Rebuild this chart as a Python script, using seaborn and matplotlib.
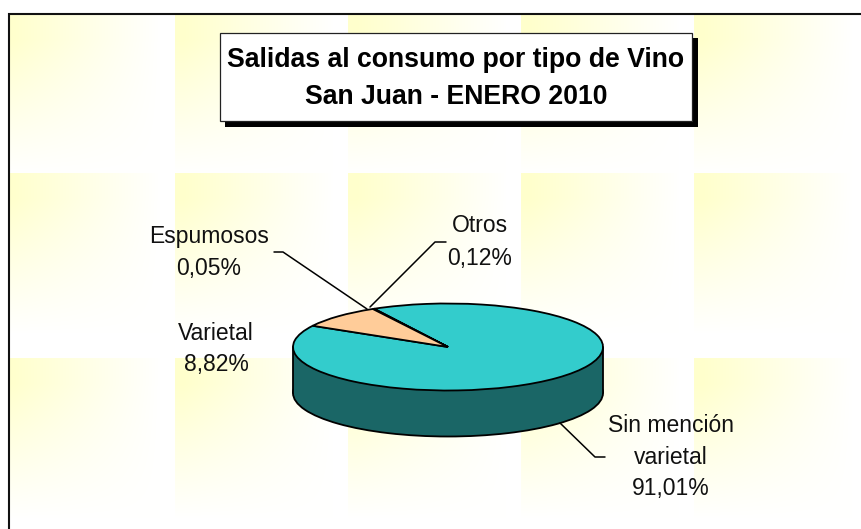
#!/usr/bin/env python3
"""Salidas al consumo por tipo de vino - San Juan, enero 2010 (pie 3D look)."""

import matplotlib
matplotlib.use("Agg")
import matplotlib.pyplot as plt
from matplotlib.patches import Rectangle
import numpy as np
import seaborn as sns

# ---- data ----
CATEGORIES = ["Sin mención\nvarietal", "Otros", "Espumosos", "Varietal"]
VALUES = [91.01, 0.12, 0.05, 8.82]
TITLE_LINES = ["Salidas al consumo por tipo de Vino", "San Juan - ENERO 2010"]

# ---- styles ----
TOP_COLOURS = ["#33CCCC", "#33CCCC", "#FFCC99", "#FFCC99"]
SIDE_COLOUR = "#1A6666"
W, H = 862, 529
LABEL_POS = [(671, 457), (480, 242), (209, 252), (216, 349)]

sns.set_theme(style="white")
plt.rcParams["font.family"] = ["Liberation Sans", "DejaVu Sans"]

fig = plt.figure(figsize=(W / 100, H / 100), dpi=100)


def pixel_axes(left, top, width, height, zorder):
    ax = fig.add_axes([left / W, 1 - (top + height) / H, width / W, height / H])
    ax.set_zorder(zorder)
    ax.patch.set_alpha(0)
    return ax


# ---- tiled pale yellow background ----
bg = pixel_axes(0, 0, W, H, 0)
img = np.ones((H, W, 3))
for x0 in [2, 175, 348, 521, 694]:
    for y0 in [14, 173, 358]:
        x1, y1 = min(x0 + 173, W), min(y0 + 185, H)
        xs = np.arange(max(x0, 10), x1)
        ys = np.arange(y0, y1)
        fx = np.clip(1 - (xs - x0 - 8) / 150, 0, 1)
        fy = np.clip(1 - (ys - y0 - 25) / 135, 0, 1)
        img[y0:y1, xs[0]:x1, 2] = 1 - 0.2 * np.outer(fy, fx)
bg.imshow(img, extent=(0, W, H, 0), aspect="auto", interpolation="nearest")
bg.set_axis_off()

# ---- pie: dark disc + rim + top disc, squashed by the axes box ----
CX, CY, RX, RY = 448, 347, 155, 43.5
DEPTH = 46 / RY
PAD = 0.1
pie_ax = pixel_axes(CX - RX * (1 + PAD), CY - RY * (1 + PAD),
                    2 * RX * (1 + PAD), RY * (2 + 2 * PAD + DEPTH), 1)
edge = {"edgecolor": "black", "linewidth": 1.3}
pie_ax.pie([sum(VALUES)], colors=[SIDE_COLOUR], center=(0, -DEPTH), wedgeprops=edge)
pie_ax.add_patch(Rectangle((-1, -DEPTH), 2, DEPTH, facecolor=SIDE_COLOUR, edgecolor="none"))
pie_ax.plot([-1, -1], [-DEPTH, 0], color="black", lw=1.3)
pie_ax.plot([1, 1], [-DEPTH, 0], color="black", lw=1.3)
pie_ax.pie(VALUES, colors=TOP_COLOURS, startangle=150.8, wedgeprops=edge)
pie_ax.set_aspect("auto")
pie_ax.set_xlim(-1 - PAD, 1 + PAD)
pie_ax.set_ylim(-1 - PAD - DEPTH, 1 + PAD)
pie_ax.set_axis_off()

# ---- frame, title box, labels, leader lines ----
top = pixel_axes(0, 0, W, H, 2)
top.set_xlim(0, W)
top.set_ylim(H, 0)
top.set_axis_off()

top.plot([9.5, 9.5, W], [H, 13.5, 13.5], color="#111111", lw=1.5, solid_joinstyle="miter")

top.add_patch(Rectangle((225, 38), 473, 89, facecolor="black", edgecolor="none"))
top.add_patch(Rectangle((220, 33), 472, 88, facecolor="white", edgecolor="#222222", lw=0.9))
for line, y in zip(TITLE_LINES, [60, 97]):
    top.text(456, y, line, ha="center", va="center", fontsize=19.2, fontweight="bold", color="black")

for name, value, (x, y) in zip(CATEGORIES, VALUES, LABEL_POS):
    label = f"{name}\n{value:.2f}%".replace(".", ",")
    top.text(x, y, label, ha="center", va="center", fontsize=16.5,
             color="#111111", linespacing=1.5, multialignment="center")

for xs, ys in [([274, 283, 367], [252, 252, 309]),
               ([446, 435, 370], [242, 242, 307]),
               ([605, 595, 560], [457, 457, 423])]:
    top.plot(xs, ys, color="black", lw=1.1)

fig.savefig("out.png", dpi=100)
plt.close(fig)
